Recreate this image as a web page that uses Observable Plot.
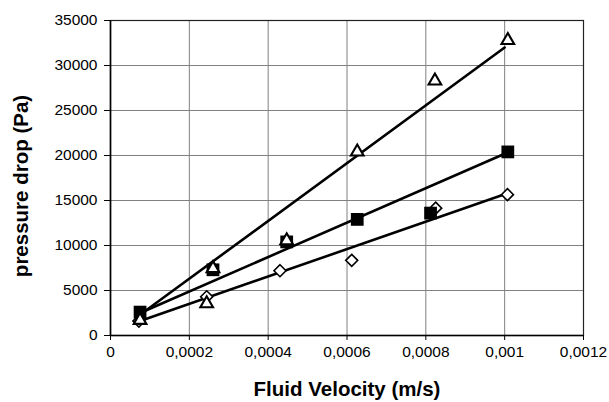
<!DOCTYPE html>
<html>
<head>
<meta charset="utf-8">
<script src="https://cdn.jsdelivr.net/npm/d3@7"></script>
<script src="https://cdn.jsdelivr.net/npm/@observablehq/plot@0.6"></script>
<style>
  html, body { margin: 0; padding: 0; background: #fff; }
  svg { font-family: "Liberation Sans", Arial, sans-serif; }
</style>
</head>
<body>
<div id="chart"></div>
<script>
// Data
const yTicks = [0, 5000, 10000, 15000, 20000, 25000, 30000, 35000];
const xTicks = [0, 0.0002, 0.0004, 0.0006, 0.0008, 0.001, 0.0012];
const xTickLabels = ["0", "0,0002", "0,0004", "0,0006", "0,0008", "0,001", "0,0012"];

const velTri = [0.000075, 0.000244, 0.00026, 0.000447, 0.000626, 0.000823, 0.001008];
const presTri = [1700, 3550, 7450, 10550, 20400, 28300, 32800];

const velSq = [0.000075, 0.00026, 0.000447, 0.000626, 0.000812, 0.001008];
const presSq = [2600, 7300, 10400, 12900, 13600, 20400];

const velDia = [0.000072, 0.000244, 0.00043, 0.000612, 0.000825, 0.001007];
const presDia = [1600, 4300, 7200, 8350, 14150, 15650];

const fitX = [0.000075, 0.001];
const fitTri = [2300, 32000];
const fitSq = [2500, 20200];
const fitDia = [1600, 15700];

const xLabel = "Fluid Velocity (m/s)";
const yLabel = "pressure drop (Pa)";

const toRows = (xs, ys) => xs.map((x, i) => ({x, y: ys[i]}));
const tri = toRows(velTri, presTri);
const sq = toRows(velSq, presSq);
const dia = toRows(velDia, presDia);
const fits = [
  toRows(fitX, fitTri),
  toRows(fitX, fitSq),
  toRows(fitX, fitDia)
];

const chart = Plot.plot({
  width: 609,
  height: 402,
  marginLeft: 110,
  marginRight: 26,
  marginTop: 20,
  marginBottom: 67,
  style: {fontFamily: "Liberation Sans, Arial, sans-serif", background: "#fff"},
  x: {domain: [0, 0.0012]},
  y: {domain: [0, 35000]},
  marks: [
    Plot.gridX(xTicks, {stroke: "#808080", strokeOpacity: 1}),
    Plot.gridY(yTicks, {stroke: "#808080", strokeOpacity: 1}),
    Plot.frame({stroke: "#222", strokeWidth: 1.2}),
    Plot.ruleX([0], {stroke: "#000", strokeWidth: 1.6}),
    Plot.ruleY([0], {stroke: "#000", strokeWidth: 1.6}),
    Plot.axisY(yTicks, {
      tickSize: 6, tickPadding: 7, fontSize: 15.5, label: null,
      tickFormat: d => String(d), color: "#000"
    }),
    Plot.axisX(xTicks, {
      tickSize: 5, tickPadding: 5, fontSize: 15.5, label: null,
      tickFormat: (d, i) => xTickLabels[i], color: "#000"
    }),
    ...fits.map(f => Plot.line(f, {x: "x", y: "y", stroke: "#000", strokeWidth: 2.6})),
    Plot.dot(dia, {x: "x", y: "y", symbol: "diamond2", r: 5.4, fill: "#fff", stroke: "#000", strokeWidth: 1.6}),
    Plot.dot(sq, {x: "x", y: "y", symbol: "square", r: 7.2, fill: "#000", stroke: "none"}),
    Plot.dot(tri, {x: "x", y: "y", symbol: "triangle", r: 4.7, fill: "#fff", stroke: "#000", strokeWidth: 2.1}),
    Plot.text([yLabel], {frameAnchor: "left", textAnchor: "middle", dx: -89, dy: 8, rotate: -90, fontWeight: "bold", fontSize: 20.5, fill: "#000"}),
    Plot.text([xLabel], {frameAnchor: "bottom", textAnchor: "middle", dy: 60, fontWeight: "bold", fontSize: 20.5, fill: "#000"})
  ]
});
document.getElementById("chart").appendChild(chart);
</script>
</body>
</html>
